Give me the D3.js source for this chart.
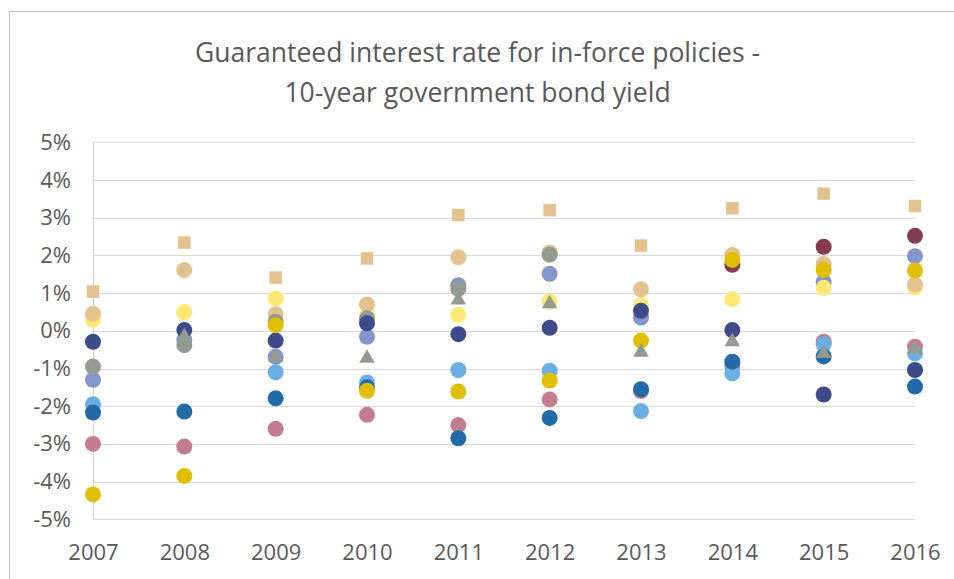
<!DOCTYPE html>
<html>
<head>
<meta charset="utf-8">
<script src="https://cdn.jsdelivr.net/npm/d3@7"></script>
<style>
  html, body { margin: 0; padding: 0; background: #ffffff; }
  svg { display: block; }
</style>
</head>
<body>
<svg id="chart" width="954" height="579"></svg>
<script>
// ---- data ----
const years = [2007, 2008, 2009, 2010, 2011, 2012, 2013, 2014, 2015, 2016];
const yTicks = [-5, -4, -3, -2, -1, 0, 1, 2, 3, 4, 5];
const titleLines = ["Guaranteed interest rate for in-force policies -", "10-year government bond yield"];

const pink        = [-3.00, -3.07, -2.60, -2.23, -2.50, -1.82, -1.60, -0.95, -0.29, -0.42];
const lightBlue   = [-1.95,  null, -1.10, -1.37, -1.04, -1.06, -2.13, -1.13, -0.36, -0.60];
const medBlue     = [-2.17, -2.14, -1.79, -1.50, -2.85, -2.31, -1.55, -0.82, -0.68, -1.48];
const periwinkle  = [-1.30, -0.24, -0.69, -0.16,  1.21,  1.51,  0.35,  null,  1.29,  1.98];
const yellow      = [ 0.29,  0.49,  0.86,  0.42,  0.42,  0.77,  0.68,  0.84,  1.14,  1.16];
const tanCircle   = [ 0.45,  1.61,  0.44,  0.70,  1.95,  2.08,  1.10,  2.01,  1.77,  1.23];
const grayCircle  = [-0.95, -0.38,  0.24,  0.33,  1.11,  2.02,  null,  null,  null,  null];
const navy        = [-0.29,  0.02, -0.26,  0.20, -0.09,  0.08,  0.53,  0.02, -1.69, -1.04];
const maroon      = [ null,  null,  null,  null,  null,  null,  null,  1.75,  2.23,  2.52];
const gold        = [-4.34, -3.85,  0.15, -1.59, -1.61, -1.32, -0.26,  1.88,  1.61,  1.60];
const grayTri     = [ null, -0.15, -0.70, -0.73,  0.82,  0.72, -0.57, -0.29, -0.60, -0.49];
const tanSquare   = [ 1.04,  2.34,  1.41,  1.92,  3.07,  3.20,  2.26,  3.25,  3.64,  3.31];

// draw order (later on top)
const series = [
  { values: pink,       color: "#C47D8F", shape: "circle" },
  { values: lightBlue,  color: "#6AAEE2", shape: "circle" },
  { values: medBlue,    color: "#226AA8", shape: "circle" },
  { values: periwinkle, color: "#8594CB", shape: "circle" },
  { values: yellow,     color: "#FFE873", shape: "circle" },
  { values: tanCircle,  color: "#E3C28F", shape: "circle" },
  { values: grayCircle, color: "#939A92", shape: "circle" },
  { values: navy,       color: "#3D4B8B", shape: "circle" },
  { values: maroon,     color: "#853C51", shape: "circle" },
  { values: gold,       color: "#DFBF00", shape: "circle" },
  { values: grayTri,    color: "#939A92", shape: "triangle" },
  { values: tanSquare,  color: "#E3C28F", shape: "square" }
];

// ---- layout ----
const svg = d3.select("#chart");
const W = 954, H = 579;
const pLeft = 93, pRight = 915, pTop = 142.3, pBottom = 519.3;

const x = d3.scaleLinear().domain([2007, 2016]).range([pLeft, pRight]);
const y = d3.scaleLinear().domain([-5, 5]).range([pBottom, pTop]);

const font = "'Open Sans', 'Noto Sans', sans-serif";
const textColor = "#595959";

// outer frame
svg.append("rect")
  .attr("x", 9.5).attr("y", 11.5)
  .attr("width", W + 20).attr("height", H + 20)
  .attr("fill", "none").attr("stroke", "#c6c6c6").attr("stroke-width", 1);

// title
svg.append("g").selectAll("text").data(titleLines).join("text")
  .attr("x", 477.5)
  .attr("y", (d, i) => 62 + i * 39.5)
  .attr("text-anchor", "middle")
  .attr("font-family", font)
  .attr("font-size", 26.5)
  .attr("fill", textColor)
  .text(d => d);

// gridlines via axis
const yAxis = d3.axisLeft(y).tickValues(yTicks).tickSize(-(pRight - pLeft)).tickFormat(d => d + "%").tickPadding(22);
const gy = svg.append("g").attr("transform", `translate(${pLeft},0)`).call(yAxis);
gy.select(".domain").remove();
gy.selectAll(".tick line").attr("stroke", "#d9d9d9").attr("stroke-width", 1).attr("shape-rendering", "crispEdges");
gy.selectAll(".tick text")
  .attr("font-family", font).attr("font-size", 22).attr("fill", textColor);

// vertical axis line
svg.append("line")
  .attr("x1", Math.round(pLeft) + 0.5).attr("x2", Math.round(pLeft) + 0.5)
  .attr("y1", y(5)).attr("y2", y(-5))
  .attr("stroke", "#d0d0d0").attr("stroke-width", 1);

// x axis labels
const xAxis = d3.axisBottom(x).tickValues(years).tickFormat(d3.format("d")).tickSize(0).tickPadding(25);
const gx = svg.append("g").attr("transform", `translate(0,${pBottom})`).call(xAxis);
gx.select(".domain").remove();
gx.selectAll(".tick text")
  .attr("font-family", font).attr("font-size", 22).attr("fill", textColor);

// points
const symSquare = d3.symbol().type(d3.symbolSquare).size(12.5 * 12.5);
const symTri = d3.symbol().type(d3.symbolTriangle).size(105);

const plot = svg.append("g");
series.forEach(s => {
  const pts = years.map((yr, i) => ({ yr, v: s.values[i] })).filter(p => p.v !== null);
  const g = plot.append("g");
  if (s.shape === "circle") {
    g.selectAll("circle").data(pts).join("circle")
      .attr("cx", d => x(d.yr)).attr("cy", d => y(d.v)).attr("r", 8)
      .attr("fill", s.color);
  } else {
    g.selectAll("path").data(pts).join("path")
      .attr("transform", d => `translate(${x(d.yr)},${y(d.v)})`)
      .attr("d", s.shape === "square" ? symSquare : symTri)
      .attr("fill", s.color);
  }
});
</script>
</body>
</html>
